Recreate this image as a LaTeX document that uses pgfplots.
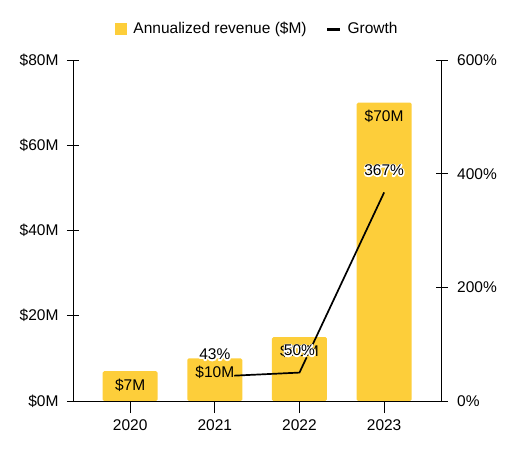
\documentclass[border=0pt]{standalone}
\usepackage{fontspec}
\setmainfont{Liberation Sans}
\usepackage{pgfplots}
\pgfplotsset{compat=1.18}
\definecolor{barc}{HTML}{FDCE3A}
\newcommand{\lf}{\fontsize{15.5bp}{18bp}\selectfont}
% text with a halo: a stroked copy underneath, then the plain text
\newcommand{\halo}[2]{\rlap{\special{pdf:literal direct 2 Tr 2.6 w 1 j #1 RG}#2\special{pdf:literal direct 0 Tr}}#2}
\pgfplotsset{
  base/.style={scale only axis, width=368.7bp, height=341bp,
    xmin=-0.675, xmax=3.68, at={(0,0)}, anchor=south west},
}
\begin{document}
\begin{tikzpicture}
\useasboundingbox (-73bp,-51bp) rectangle (442bp,401bp);
\begin{axis}[base, ymin=0, ymax=80,
  axis x line*=bottom, axis y line*=left,
  axis line style={line width=0.9bp, -},
  ytick={0,20,40,60,80}, yticklabels={\$0M,\$20M,\$40M,\$60M,\$80M},
  xtick={0,1,2,3}, xticklabels={2020,2021,2022,2023},
  tick align=center, major tick length=12bp,
  tick style={line width=0.9bp, black},
  ticklabel style={font=\lf},
  yticklabel style={xshift=-5bp},
  xticklabel style={yshift=-3bp},
  ybar, bar width=55bp]
\addplot[fill=barc, draw=none, rounded corners=1.5bp] coordinates {(0,7) (1,10) (2,15) (3,70)};
\end{axis}
\begin{axis}[base, ymin=0, ymax=600,
  axis y line*=right, axis x line=none,
  axis line style={line width=0.9bp, -},
  ytick={0,200,400,600}, yticklabels={0\%,200\%,400\%,600\%},
  tick align=center, major tick length=12bp,
  tick style={line width=0.9bp, black},
  ticklabel style={font=\lf},
  yticklabel style={xshift=6bp},
  legend style={draw=none, at={(0.5,1)}, anchor=center, yshift=31bp,
    font=\lf, inner sep=0pt, legend columns=2,
    /tikz/every even column/.append style={column sep=17bp}},
  ]
\addlegendimage{legend image code/.code={\fill[barc] (0bp,-5.5bp) rectangle (11bp,5.5bp);}}
\addlegendentry{\hspace{5bp}Annualized revenue (\$M)}
\addplot[black, line width=1.7bp, mark=none,
  legend image code/.code={\draw[black, line width=3bp] (0bp,0bp) -- (13bp,0bp);}]
  coordinates {(1,43) (2,50) (3,367)};
\addlegendentry{\hspace{4bp}Growth}
\end{axis}
\begin{axis}[base, ymin=0, ymax=80, hide axis]
\addplot[draw=none, mark=none, point meta=explicit symbolic,
  nodes near coords={\halo{0.992 0.808 0.227}{\pgfplotspointmeta}},
  nodes near coords style={anchor=center, yshift=-14bp, font=\lf, text=black}]
  coordinates {(0,7) [\$7M] (1,10) [\$10M] (2,15) [\$15M] (3,70) [\$70M]};
\end{axis}
\begin{axis}[base, ymin=0, ymax=600, hide axis]
\addplot[draw=none, mark=none, point meta=explicit symbolic,
  nodes near coords={\halo{1 1 1}{\pgfplotspointmeta}},
  nodes near coords style={anchor=center, yshift=22bp, font=\lf, text=black}]
  coordinates {(1,43) [43\%] (2,50) [50\%] (3,367) [367\%]};
\end{axis}
\end{tikzpicture}
\end{document}
